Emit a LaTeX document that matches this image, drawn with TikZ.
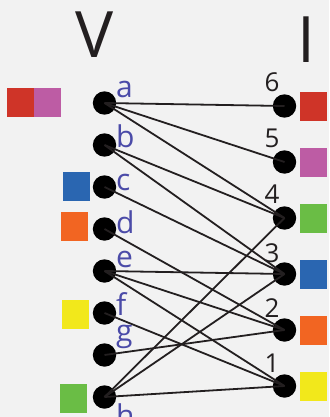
\documentclass[tikz,border=0pt]{standalone}
\usepackage{fontspec}
\setmainfont{Open Sans}
\definecolor{bg}{HTML}{F2F2F2}
\definecolor{ink}{HTML}{231F20}
\definecolor{lbl}{HTML}{4B4BA8}
\definecolor{cred}{HTML}{CF3428}
\definecolor{cmag}{HTML}{BD5CA4}
\definecolor{cgreen}{HTML}{6ABD45}
\definecolor{cblue}{HTML}{2A66B1}
\definecolor{corange}{HTML}{F26522}
\definecolor{cyellow}{HTML}{F2E81B}
\tikzset{
  vert/.style={circle,fill=black,inner sep=0pt,minimum size=23.4pt},
  edge/.style={draw=ink,line width=1.8pt},
  letter/.style={anchor=base west,inner sep=0pt,text=lbl,font=\fontsize{30}{30}\selectfont},
  digit/.style={anchor=base,inner sep=0pt,text=ink,font=\fontsize{26}{26}\selectfont},
  title/.style={anchor=base,inner sep=0pt,text=ink,font=\fontsize{64}{64}\selectfont},
  swatch/.style={inner sep=0pt,minimum width=27pt,minimum height=29pt,anchor=north west}
}
\begin{document}
\begin{tikzpicture}[x=1pt,y=-1pt]
\fill[bg] (0,0) rectangle (329,417);
\useasboundingbox (0,0) rectangle (329,417);
\begin{scope}
\clip (0,0) rectangle (329,417);
% titles
\node[title] (tV) at (95,58) {V};
\node[title] (tI) at (306.5,63) {I};
% left swatches
\node[swatch,fill=cred] (sa1) at (7,88) {};
\node[swatch,fill=cmag] (sa2) at (34,88) {};
\node[swatch,fill=cblue] (sc) at (63,172) {};
\node[swatch,fill=corange] (sd) at (61,212) {};
\node[swatch,fill=cyellow] (sf) at (62,300) {};
\node[swatch,fill=cgreen] (sh) at (60,384) {};
% right swatches
\node[swatch,fill=cred] (s6) at (300,92) {};
\node[swatch,fill=cmag] (s5) at (300,148) {};
\node[swatch,fill=cgreen] (s4) at (300,204) {};
\node[swatch,fill=cblue] (s3) at (300,260) {};
\node[swatch,fill=corange] (s2) at (300,316) {};
\node[swatch,fill=cyellow] (s1) at (300,372) {};
% left vertices
\node[vert] (va) at (104.5,103) {};
\node[vert] (vb) at (104.5,145) {};
\node[vert] (vc) at (104.5,187) {};
\node[vert] (vd) at (104.5,229) {};
\node[vert] (ve) at (104.5,271) {};
\node[vert] (vf) at (104.5,313) {};
\node[vert] (vg) at (104.5,355) {};
\node[vert] (vh) at (104.5,397) {};
% right vertices
\node[vert] (i6) at (284.5,106) {};
\node[vert] (i5) at (284.5,162) {};
\node[vert] (i4) at (284.5,218) {};
\node[vert] (i3) at (284.5,274) {};
\node[vert] (i2) at (284.5,330) {};
\node[vert] (i1) at (284.5,386) {};
% edges
\draw[edge] (va.center) -- (i6.center);
\draw[edge] (va.center) -- (i5.center);
\draw[edge] (va.center) -- (i4.center);
\draw[edge] (vb.center) -- (i4.center);
\draw[edge] (vb.center) -- (i3.center);
\draw[edge] (vc.center) -- (i3.center);
\draw[edge] (vd.center) -- (i2.center);
\draw[edge] (ve.center) -- (i3.center);
\draw[edge] (ve.center) -- (i2.center);
\draw[edge] (ve.center) -- (i1.center);
\draw[edge] (vf.center) -- (i1.center);
\draw[edge] (vg.center) -- (i2.center);
\draw[edge] (vh.center) -- (i4.center);
\draw[edge] (vh.center) -- (i3.center);
\draw[edge] (vh.center) -- (i1.center);
% letter labels
\node[letter] (la) at (116,98) {a};
\node[letter] (lb) at (116,147) {b};
\node[letter] (lc) at (116,190) {c};
\node[letter] (ld) at (116,233) {d};
\node[letter] (le) at (116,267) {e};
\node[letter] (lf) at (116,315) {f};
\node[letter] (lg) at (116,341) {g};
\node[letter] (lh) at (116,426) {h};
% digit labels
\node[digit] (d6) at (272,92) {6};
\node[digit] (d5) at (272,147) {5};
\node[digit] (d4) at (272,203) {4};
\node[digit] (d3) at (272,262) {3};
\node[digit] (d2) at (272,317) {2};
\node[digit] (d1) at (272,372) {1};
\end{scope}
\end{tikzpicture}
\end{document}
